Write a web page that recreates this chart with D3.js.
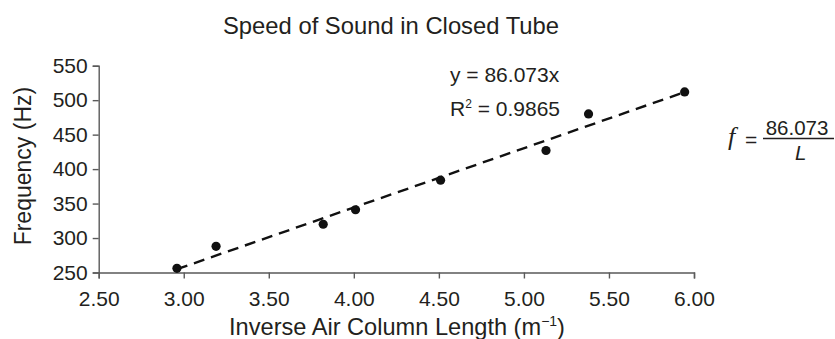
<!DOCTYPE html>
<html>
<head>
<meta charset="utf-8">
<script src="https://cdn.jsdelivr.net/npm/d3@7/dist/d3.min.js"></script>
<style>
  html, body { margin: 0; padding: 0; background: #fff; }
  svg { display: block; }
  text { font-family: "Liberation Sans", Arial, Helvetica, sans-serif; fill: #231f20; }
</style>
</head>
<body>
<svg id="chart" width="835" height="339"></svg>
<script>
// Inverse air column length (1/m) and tuning-fork frequency (Hz)
const inverseLength = [2.96, 3.19, 3.82, 4.01, 4.51, 5.13, 5.38, 5.945];
const frequency = [256, 288, 320, 341, 384, 427, 480, 512];

// Linear fit through the origin
const slope = 86.073;
const rSquared = 0.9865;

const xTicks = [2.5, 3.0, 3.5, 4.0, 4.5, 5.0, 5.5, 6.0];
const yTicks = [250, 300, 350, 400, 450, 500, 550];

const svg = d3.select("#chart");
const axisColor = "#5a5a5a";
const fontStack = "'Liberation Sans', Arial, Helvetica, sans-serif";

const x = d3.scaleLinear().domain([2.5, 6.0]).range([98.7, 694]);
const y = d3.scaleLinear().domain([250, 550]).range([272.5, 65.7]);

// Title
svg.append("text")
  .attr("x", 391).attr("y", 34)
  .attr("text-anchor", "middle")
  .attr("font-size", 23.8)
  .text("Speed of Sound in Closed Tube");

// X axis
const gx = svg.append("g")
  .attr("transform", `translate(0,${y(250)})`)
  .call(d3.axisBottom(x).tickValues(xTicks).tickFormat(d3.format(".2f"))
    .tickSizeOuter(0).tickSize(6).tickPadding(13));
// Y axis
const gy = svg.append("g")
  .attr("transform", `translate(${x(2.5)},0)`)
  .call(d3.axisLeft(y).tickValues(yTicks).tickSizeOuter(0).tickSize(6).tickPadding(5));

[gx, gy].forEach(g => {
  g.select(".domain").attr("stroke", axisColor).attr("stroke-width", 1.4);
  g.selectAll(".tick line").attr("stroke", axisColor).attr("stroke-width", 1.4);
  g.selectAll(".tick text")
    .attr("fill", "#231f20")
    .attr("font-size", 21)
    .attr("font-family", fontStack);
});
gx.selectAll(".tick text").attr("dy", "0.71em");

// Axis titles
const xTitle = svg.append("text")
  .attr("x", 397).attr("y", 335)
  .attr("text-anchor", "middle")
  .attr("font-size", 23.6);
xTitle.append("tspan").text("Inverse Air Column Length (m");
xTitle.append("tspan").attr("font-size", 14).attr("dy", -9).text("\u22121");
xTitle.append("tspan").attr("dy", 9).text(")");

svg.append("text")
  .attr("transform", `translate(31,${(y(250) + y(550)) / 2 - 3}) rotate(-90)`)
  .attr("text-anchor", "middle")
  .attr("font-size", 23)
  .text("Frequency (Hz)");

// Trend line
const x0 = d3.min(inverseLength), x1 = d3.max(inverseLength);
svg.append("line")
  .attr("x1", x(x0)).attr("y1", y(slope * x0))
  .attr("x2", x(x1)).attr("y2", y(slope * x1))
  .attr("stroke", "#111")
  .attr("stroke-width", 2.4)
  .attr("stroke-dasharray", "11,7");

// Data points
svg.append("g").selectAll("circle")
  .data(inverseLength.map((v, i) => [v, frequency[i]]))
  .join("circle")
  .attr("cx", d => x(d[0]))
  .attr("cy", d => y(d[1]))
  .attr("r", 4.6)
  .attr("fill", "#111");

// Fit equation and R²
svg.append("text")
  .attr("x", 450).attr("y", 82)
  .attr("font-size", 21)
  .text(`y = ${slope}x`);
const r2 = svg.append("text")
  .attr("x", 450).attr("y", 116)
  .attr("font-size", 21);
r2.append("tspan").text("R");
r2.append("tspan").attr("font-size", 12).attr("dy", -8).text("2");
r2.append("tspan").attr("dy", 8).text(` = ${rSquared}`);

// f = 86.073 / L
const eq = svg.append("g");
eq.append("text")
  .attr("x", 728).attr("y", 145)
  .attr("font-size", 26)
  .attr("font-style", "italic")
  .style("font-family", "'Liberation Serif', 'Times New Roman', serif")
  .text("f");
eq.append("text")
  .attr("x", 745).attr("y", 146.5)
  .attr("font-size", 21)
  .text("=");
eq.append("text")
  .attr("x", 797).attr("y", 135)
  .attr("text-anchor", "middle")
  .attr("font-size", 20.5)
  .text(slope);
eq.append("line")
  .attr("x1", 763).attr("x2", 834)
  .attr("y1", 138.5).attr("y2", 138.5)
  .attr("stroke", "#231f20").attr("stroke-width", 1.3);
eq.append("text")
  .attr("x", 795).attr("y", 159.5)
  .attr("font-size", 20.5)
  .attr("font-style", "italic")
  .text("L");
</script>
</body>
</html>
